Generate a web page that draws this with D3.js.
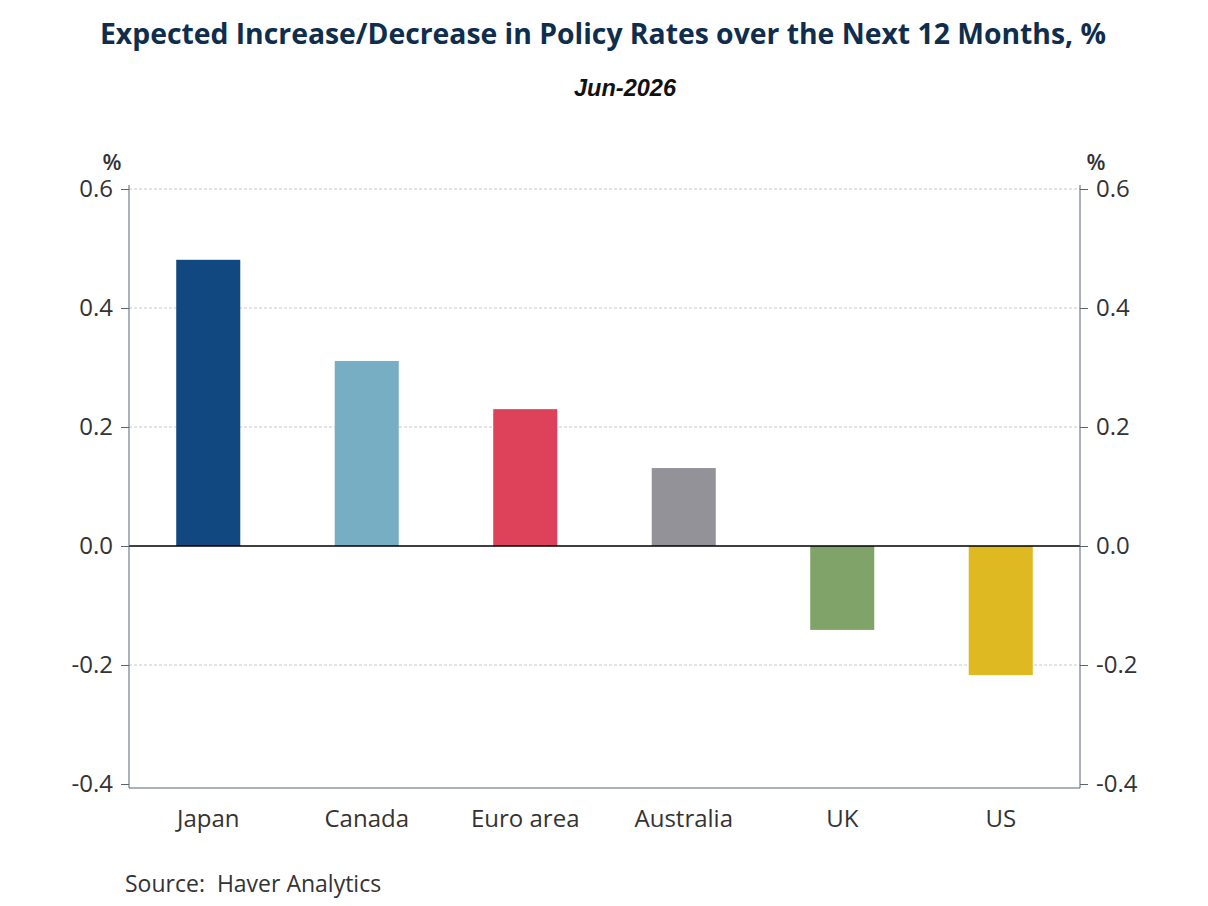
<!DOCTYPE html>
<html>
<head>
<meta charset="utf-8">
<script src="https://cdn.jsdelivr.net/npm/d3@7"></script>
<style>
  body { margin: 0; background: #fff; }
  svg { display: block; }
</style>
</head>
<body>
<svg id="chart" width="1208" height="906"></svg>
<script>
  // data
  const countries = ["Japan", "Canada", "Euro area", "Australia", "UK", "US"];
  const changes = [0.481, 0.311, 0.230, 0.131, -0.141, -0.217];
  const barColors = ["#11487f", "#77aec4", "#de425b", "#939299", "#7fa369", "#deb921"];
  const yTicks = [-0.4, -0.2, 0.0, 0.2, 0.4, 0.6];

  const svg = d3.select("#chart");
  const font = "'Open Sans', 'Noto Sans', sans-serif";

  const plotLeft = 129, plotRight = 1080, plotTop = 189, plotLow = 784;

  const x = d3.scaleBand().domain(countries).range([plotLeft, plotRight])
    .paddingInner(0.596).paddingOuter(0.298);
  const y = d3.scaleLinear().domain([-0.4, 0.6]).range([plotLow, plotTop]);

  // title + subtitle
  svg.append("text")
    .attr("x", 603).attr("y", 44)
    .attr("text-anchor", "middle")
    .attr("font-family", font).attr("font-weight", 700)
    .attr("font-size", 28).attr("fill", "#0f2d4d")
    .attr("textLength", 1006).attr("lengthAdjust", "spacingAndGlyphs")
    .text("Expected Increase/Decrease in Policy Rates over the Next 12 Months, %");

  svg.append("text")
    .attr("x", 625).attr("y", 96)
    .attr("text-anchor", "middle")
    .attr("font-family", "'Liberation Sans', Arial, sans-serif")
    .attr("font-weight", 700).attr("font-style", "italic")
    .attr("font-size", 23).attr("fill", "#111")
    .attr("textLength", 102).attr("lengthAdjust", "spacingAndGlyphs")
    .text("Jun-2026");

  // gridlines
  svg.append("g")
    .selectAll("line")
    .data(yTicks.filter(d => d !== 0 && d !== -0.4))
    .join("line")
    .attr("x1", plotLeft).attr("x2", plotRight)
    .attr("y1", d => y(d)).attr("y2", d => y(d))
    .attr("stroke", "#c8c8c8").attr("stroke-width", 1)
    .attr("stroke-dasharray", "3,2");

  // bars
  svg.append("g")
    .selectAll("rect")
    .data(countries)
    .join("rect")
    .attr("x", d => x(d))
    .attr("width", x.bandwidth())
    .attr("y", (d, i) => y(Math.max(0, changes[i])))
    .attr("height", (d, i) => Math.abs(y(changes[i]) - y(0)))
    .attr("fill", (d, i) => barColors[i]);

  // zero line
  svg.append("line")
    .attr("x1", plotLeft).attr("x2", plotRight)
    .attr("y1", y(0)).attr("y2", y(0))
    .attr("stroke", "#000").attr("stroke-width", 1.3);

  // axes
  const fmt = d3.format(".1f");
  const leftAxis = svg.append("g")
    .attr("transform", `translate(${plotLeft},0)`)
    .call(d3.axisLeft(y).tickValues(yTicks).tickFormat(d => fmt(d).replace("−", "-")).tickSize(8).tickPadding(8));
  const rightAxis = svg.append("g")
    .attr("transform", `translate(${plotRight},0)`)
    .call(d3.axisRight(y).tickValues(yTicks).tickFormat(d => fmt(d).replace("−", "-")).tickSize(8).tickPadding(8));

  [leftAxis, rightAxis].forEach(a => {
    a.select(".domain").remove();
    a.selectAll(".tick line").attr("stroke", "#5a6370");
    a.selectAll(".tick text")
      .attr("font-family", font).attr("font-size", 24).attr("fill", "#333");
  });

  // frame: side lines and bottom
  const frameBottom = 788;
  svg.append("path")
    .attr("d", `M${plotLeft},${plotTop - 4}V${frameBottom}H${plotRight}V${plotTop - 4}`)
    .attr("fill", "none").attr("stroke", "#5a6370").attr("stroke-width", 1);

  // % unit labels
  svg.append("text")
    .attr("x", 112).attr("y", 170).attr("text-anchor", "middle")
    .attr("font-family", font).attr("font-weight", 600)
    .attr("font-size", 22).attr("fill", "#333").text("%");
  svg.append("text")
    .attr("x", 1096).attr("y", 170).attr("text-anchor", "middle")
    .attr("font-family", font).attr("font-weight", 600)
    .attr("font-size", 22).attr("fill", "#333").text("%");

  // category labels
  svg.append("g")
    .selectAll("text")
    .data(countries)
    .join("text")
    .attr("x", d => x(d) + x.bandwidth() / 2)
    .attr("y", 827)
    .attr("text-anchor", "middle")
    .attr("font-family", font).attr("font-size", 24).attr("fill", "#333")
    .text(d => d);

  // source
  svg.append("text")
    .attr("x", 125).attr("y", 892)
    .attr("font-family", font).attr("font-size", 23).attr("fill", "#333")
    .attr("xml:space", "preserve")
    .text("Source:  Haver Analytics");
</script>
</body>
</html>
